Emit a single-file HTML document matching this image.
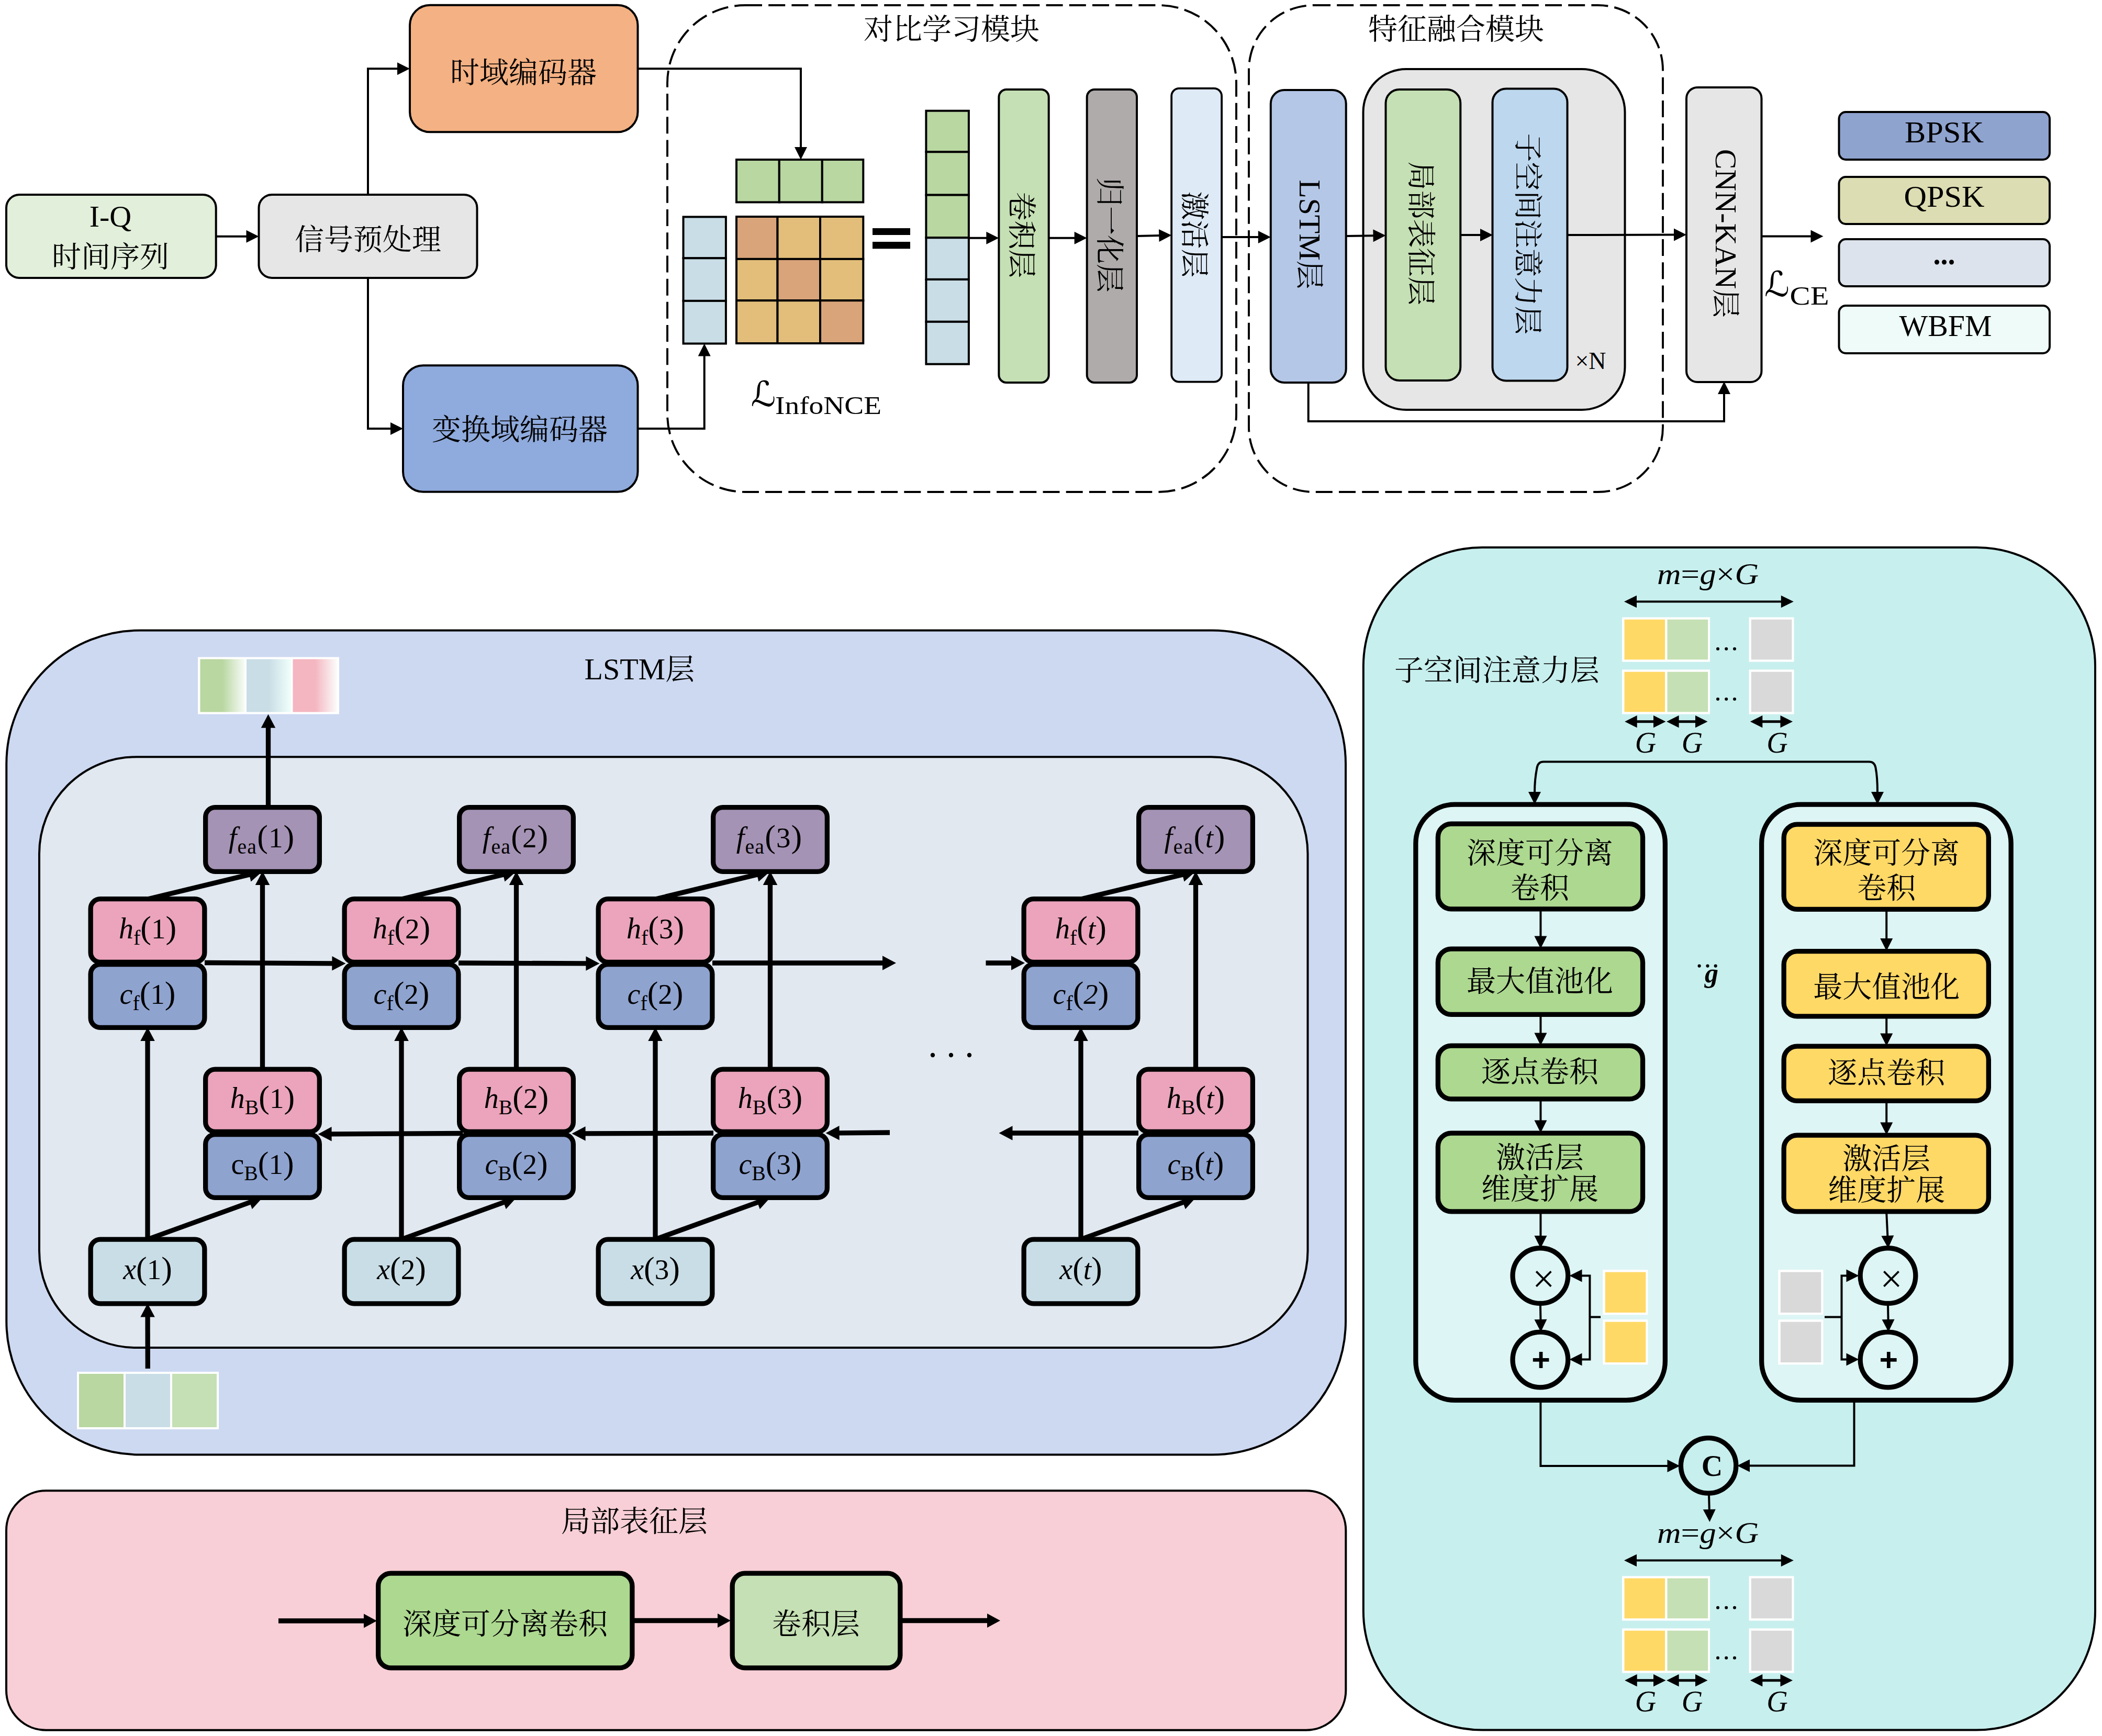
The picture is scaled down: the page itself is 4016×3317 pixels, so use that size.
<!DOCTYPE html>
<html lang="zh"><head><meta charset="utf-8"><title>Network architecture</title>
<style>html,body{margin:0;padding:0;background:#fff}svg{display:block}text{fill:#000}</style></head>
<body><svg width="4016" height="3317" viewBox="0 0 4016 3317">
<rect width="4016" height="3317" fill="#fff"/>
<rect x="1275" y="10" width="1087" height="930" rx="149" ry="149" fill="none" stroke="#000" stroke-width="3.9" stroke-dasharray="32 12.2"/>
<rect x="2386" y="10" width="791" height="930" rx="124" ry="124" fill="none" stroke="#000" stroke-width="3.9" stroke-dasharray="32 12.2"/>
<rect x="12.00" y="372.00" width="400.70" height="159.00" rx="25.00" ry="25.00" fill="#E2EFDA" stroke="#000" stroke-width="4" />
<rect x="494.50" y="372.00" width="417.00" height="159.00" rx="25.00" ry="25.00" fill="#E7E6E6" stroke="#000" stroke-width="4" />
<rect x="783.00" y="9.80" width="435.50" height="242.50" rx="38.50" ry="38.50" fill="#F4B183" stroke="#000" stroke-width="4" />
<rect x="770.00" y="698.20" width="448.50" height="241.60" rx="38.50" ry="38.50" fill="#8FAADC" stroke="#000" stroke-width="4" />
<text x="211.00" y="433.00" font-family='"Liberation Serif","Noto Serif CJK SC",serif' font-size="58" text-anchor="middle" >I-Q</text>
<text x="211.00" y="509.50" font-family='"Liberation Serif","Noto Serif CJK SC",serif' font-size="56" text-anchor="middle" >时间序列</text>
<text x="703.00" y="477.00" font-family='"Liberation Serif","Noto Serif CJK SC",serif' font-size="56" text-anchor="middle" >信号预处理</text>
<text x="1000.00" y="158.00" font-family='"Liberation Serif","Noto Serif CJK SC",serif' font-size="56" text-anchor="middle" >时域编码器</text>
<text x="993.00" y="840.00" font-family='"Liberation Serif","Noto Serif CJK SC",serif' font-size="56" text-anchor="middle" >变换域编码器</text>
<text x="1818.00" y="75.00" font-family='"Liberation Serif","Noto Serif CJK SC",serif' font-size="56" text-anchor="middle" >对比学习模块</text>
<text x="2782.00" y="75.00" font-family='"Liberation Serif","Noto Serif CJK SC",serif' font-size="56" text-anchor="middle" >特征融合模块</text>
<polygon points="494.50,451.70 470.50,463.70 470.50,439.70" fill="#000"/>
<polyline points="414.00,451.70 471.50,451.70" fill="none" stroke="#000" stroke-width="4" stroke-linejoin="miter" stroke-linecap="butt"/>
<polygon points="783.00,131.30 759.00,143.30 759.00,119.30" fill="#000"/>
<polyline points="703.00,371.00 703.00,131.30 760.00,131.30" fill="none" stroke="#000" stroke-width="4" stroke-linejoin="miter" stroke-linecap="butt"/>
<polygon points="770.00,819.00 746.00,831.00 746.00,807.00" fill="#000"/>
<polyline points="703.00,532.00 703.00,819.00 747.00,819.00" fill="none" stroke="#000" stroke-width="4" stroke-linejoin="miter" stroke-linecap="butt"/>
<polygon points="1530.00,305.00 1518.00,281.00 1542.00,281.00" fill="#000"/>
<polyline points="1219.00,131.30 1530.00,131.30 1530.00,282.00" fill="none" stroke="#000" stroke-width="4" stroke-linejoin="miter" stroke-linecap="butt"/>
<polygon points="1345.70,656.50 1357.70,680.50 1333.70,680.50" fill="#000"/>
<polyline points="1219.00,819.00 1345.70,819.00 1345.70,679.50" fill="none" stroke="#000" stroke-width="4" stroke-linejoin="miter" stroke-linecap="butt"/>
<rect x="1407.00" y="305.00" width="81.80" height="81.40" fill="#B9D7A1" stroke="#000" stroke-width="4"/>
<rect x="1488.80" y="305.00" width="82.00" height="81.40" fill="#B9D7A1" stroke="#000" stroke-width="4"/>
<rect x="1570.80" y="305.00" width="78.50" height="81.40" fill="#B9D7A1" stroke="#000" stroke-width="4"/>
<rect x="1305.50" y="414.40" width="81.40" height="78.90" fill="#C9DDE6" stroke="#000" stroke-width="4"/>
<rect x="1305.50" y="493.30" width="81.40" height="81.60" fill="#C9DDE6" stroke="#000" stroke-width="4"/>
<rect x="1305.50" y="574.90" width="81.40" height="81.60" fill="#C9DDE6" stroke="#000" stroke-width="4"/>
<rect x="1407.00" y="414.00" width="78.50" height="80.90" fill="#D9A47A" stroke="#000" stroke-width="4"/>
<rect x="1485.50" y="414.00" width="81.50" height="80.90" fill="#E2BE7A" stroke="#000" stroke-width="4"/>
<rect x="1567.00" y="414.00" width="82.30" height="80.90" fill="#E2BE7A" stroke="#000" stroke-width="4"/>
<rect x="1407.00" y="494.90" width="78.50" height="79.30" fill="#E2BE7A" stroke="#000" stroke-width="4"/>
<rect x="1485.50" y="494.90" width="81.50" height="79.30" fill="#D9A47A" stroke="#000" stroke-width="4"/>
<rect x="1567.00" y="494.90" width="82.30" height="79.30" fill="#E2BE7A" stroke="#000" stroke-width="4"/>
<rect x="1407.00" y="574.20" width="78.50" height="81.80" fill="#E2BE7A" stroke="#000" stroke-width="4"/>
<rect x="1485.50" y="574.20" width="81.50" height="81.80" fill="#E2BE7A" stroke="#000" stroke-width="4"/>
<rect x="1567.00" y="574.20" width="82.30" height="81.80" fill="#D9A47A" stroke="#000" stroke-width="4"/>
<rect x="1667" y="436" width="72" height="13" fill="#000"/><rect x="1667" y="462" width="72" height="13.3" fill="#000"/>
<rect x="1769.40" y="211.70" width="81.50" height="78.60" fill="#B9D7A1" stroke="#000" stroke-width="4"/>
<rect x="1769.40" y="290.30" width="81.50" height="82.30" fill="#B9D7A1" stroke="#000" stroke-width="4"/>
<rect x="1769.40" y="372.60" width="81.50" height="81.60" fill="#B9D7A1" stroke="#000" stroke-width="4"/>
<rect x="1769.40" y="454.20" width="81.50" height="79.70" fill="#C9DDE6" stroke="#000" stroke-width="4"/>
<rect x="1769.40" y="533.90" width="81.50" height="80.90" fill="#C9DDE6" stroke="#000" stroke-width="4"/>
<rect x="1769.40" y="614.80" width="81.50" height="80.90" fill="#C9DDE6" stroke="#000" stroke-width="4"/>
<text x="1434.5" y="776" font-family='"DejaVu Sans",sans-serif' font-size="66.5">ℒ</text>
<text x="1481" y="791" font-family='"Liberation Serif","Noto Serif CJK SC",serif' font-size="49" textLength="203" lengthAdjust="spacingAndGlyphs">InfoNCE</text>
<rect x="1908.40" y="171.00" width="95.30" height="560.00" rx="14.50" ry="14.50" fill="#C5E0B4" stroke="#000" stroke-width="4" />
<rect x="2076.70" y="171.00" width="95.30" height="560.00" rx="14.50" ry="14.50" fill="#AFABAB" stroke="#000" stroke-width="4" />
<rect x="2238.20" y="168.90" width="95.90" height="560.70" rx="14.60" ry="14.60" fill="#DEEAF6" stroke="#000" stroke-width="3.8" />
<rect x="2427.80" y="172.00" width="143.90" height="559.00" rx="26.00" ry="26.00" fill="#B4C7E7" stroke="#000" stroke-width="4" />
<rect x="2604.50" y="132.00" width="500.00" height="651.00" rx="82.00" ry="82.00" fill="#E7E6E6" stroke="#000" stroke-width="4" />
<rect x="2647.50" y="171.00" width="142.80" height="556.00" rx="26.00" ry="26.00" fill="#C5E0B4" stroke="#000" stroke-width="4" />
<rect x="2851.50" y="169.50" width="143.00" height="558.00" rx="26.00" ry="26.00" fill="#BDD7EE" stroke="#000" stroke-width="4" />
<rect x="3222.00" y="167.00" width="143.50" height="563.00" rx="21.00" ry="21.00" fill="#E7E6E6" stroke="#000" stroke-width="4" />
<text x="0" y="0" font-family='"Liberation Serif","Noto Serif CJK SC",serif' font-size="55" text-anchor="middle" transform="translate(1951.50 449.00) rotate(90) translate(0 19)" >卷积层</text>
<text x="0" y="0" font-family='"Liberation Serif","Noto Serif CJK SC",serif' font-size="55" text-anchor="middle" transform="translate(2120.00 449.00) rotate(90) translate(0 19)" >归一化层</text>
<text x="0" y="0" font-family='"Liberation Serif","Noto Serif CJK SC",serif' font-size="55" text-anchor="middle" transform="translate(2282.00 448.00) rotate(90) translate(0 19)" >激活层</text>
<text x="0" y="0" font-family='"Liberation Serif","Noto Serif CJK SC",serif' font-size="55" text-anchor="middle" transform="translate(2502.00 448.00) rotate(90) translate(0 19)" ><tspan font-size="58">LSTM</tspan>层</text>
<text x="0" y="0" font-family='"Liberation Serif","Noto Serif CJK SC",serif' font-size="55" text-anchor="middle" transform="translate(2715.00 446.00) rotate(90) translate(0 19)" >局部表征层</text>
<text x="0" y="0" font-family='"Liberation Serif","Noto Serif CJK SC",serif' font-size="55" text-anchor="middle" transform="translate(2919.00 447.00) rotate(90) translate(0 19)" >子空间注意力层</text>
<text x="0" y="0" font-family='"Liberation Serif","Noto Serif CJK SC",serif' font-size="55" text-anchor="middle" transform="translate(3297.00 446.00) rotate(90) translate(0 19)" ><tspan font-size="58">CNN-KAN</tspan>层</text>
<text x="3039.00" y="705.00" font-family='"Liberation Serif","Noto Serif CJK SC",serif' font-size="46" text-anchor="middle" >×N</text>
<polygon points="1908.40,454.80 1884.40,466.80 1884.40,442.80" fill="#000"/>
<polyline points="1851.00,454.80 1885.40,454.80" fill="none" stroke="#000" stroke-width="4" stroke-linejoin="miter" stroke-linecap="butt"/>
<polygon points="2076.70,454.80 2052.70,466.80 2052.70,442.80" fill="#000"/>
<polyline points="2004.00,454.80 2053.70,454.80" fill="none" stroke="#000" stroke-width="4" stroke-linejoin="miter" stroke-linecap="butt"/>
<polygon points="2238.30,449.50 2214.58,462.04 2214.03,438.05" fill="#000"/>
<polyline points="2172.00,451.00 2215.31,450.02" fill="none" stroke="#000" stroke-width="4" stroke-linejoin="miter" stroke-linecap="butt"/>
<polygon points="2427.80,453.00 2403.80,465.00 2403.80,441.00" fill="#000"/>
<polyline points="2335.00,453.00 2404.80,453.00" fill="none" stroke="#000" stroke-width="4" stroke-linejoin="miter" stroke-linecap="butt"/>
<polygon points="2647.50,450.00 2623.66,462.32 2623.34,438.32" fill="#000"/>
<polyline points="2572.00,451.00 2624.50,450.30" fill="none" stroke="#000" stroke-width="4" stroke-linejoin="miter" stroke-linecap="butt"/>
<polygon points="2852.00,449.00 2828.00,461.00 2828.00,437.00" fill="#000"/>
<polyline points="2792.00,449.00 2829.00,449.00" fill="none" stroke="#000" stroke-width="4" stroke-linejoin="miter" stroke-linecap="butt"/>
<polygon points="3222.00,448.50 3198.03,460.55 3197.97,436.55" fill="#000"/>
<polyline points="2996.00,449.00 3199.00,448.55" fill="none" stroke="#000" stroke-width="4" stroke-linejoin="miter" stroke-linecap="butt"/>
<polygon points="3483.50,451.50 3459.50,463.50 3459.50,439.50" fill="#000"/>
<polyline points="3366.00,451.50 3460.50,451.50" fill="none" stroke="#000" stroke-width="4" stroke-linejoin="miter" stroke-linecap="butt"/>
<polygon points="3294.00,729.00 3306.00,753.00 3282.00,753.00" fill="#000"/>
<polyline points="2499.70,731.00 2499.70,805.00 3294.00,805.00 3294.00,752.00" fill="none" stroke="#000" stroke-width="4" stroke-linejoin="miter" stroke-linecap="butt"/>
<text x="3371" y="566" font-family='"DejaVu Sans",sans-serif' font-size="66.5">ℒ</text>
<text x="3419.5" y="581.5" font-family='"Liberation Serif","Noto Serif CJK SC",serif' font-size="50" textLength="75" lengthAdjust="spacingAndGlyphs">CE</text>
<rect x="3513.50" y="214.00" width="402.50" height="91.00" rx="13.00" ry="13.00" fill="#8FA3CF" stroke="#000" stroke-width="4" />
<rect x="3513.50" y="338.00" width="402.50" height="90.00" rx="13.00" ry="13.00" fill="#DDDDB3" stroke="#000" stroke-width="4" />
<rect x="3513.50" y="457.00" width="402.50" height="90.00" rx="13.00" ry="13.00" fill="#DDE3EC" stroke="#000" stroke-width="4" />
<rect x="3513.50" y="584.00" width="402.50" height="91.00" rx="13.00" ry="13.00" fill="#EFFBF8" stroke="#000" stroke-width="4" />
<text x="3714.50" y="272.00" font-family='"Liberation Serif","Noto Serif CJK SC",serif' font-size="58" text-anchor="middle" textLength="151" lengthAdjust="spacingAndGlyphs">BPSK</text>
<text x="3714.50" y="395.00" font-family='"Liberation Serif","Noto Serif CJK SC",serif' font-size="58" text-anchor="middle" textLength="154" lengthAdjust="spacingAndGlyphs">QPSK</text>
<text x="3714.50" y="505.00" font-family='"Liberation Serif","Noto Serif CJK SC",serif' font-size="56" text-anchor="middle" font-weight="bold">...</text>
<text x="3717.00" y="642.00" font-family='"Liberation Serif","Noto Serif CJK SC",serif' font-size="58" text-anchor="middle" textLength="177" lengthAdjust="spacingAndGlyphs">WBFM</text>
<rect x="12.30" y="1204.50" width="2558.70" height="1575.00" rx="255.00" ry="255.00" fill="#CDD9F1" stroke="#000" stroke-width="4" />
<rect x="75.00" y="1446.30" width="2423.50" height="1128.70" rx="185.00" ry="185.00" fill="#E1E8F0" stroke="#000" stroke-width="4" />
<text x="1116.50" y="1298.20" font-family='"Liberation Serif","Noto Serif CJK SC",serif' font-size="56" text-anchor="start" ><tspan font-size="58">LSTM</tspan>层</text>
<defs>
<linearGradient id="g0" x1="0" x2="1" y1="0" y2="0"><stop offset="0" stop-color="#B9D7A1"/><stop offset="0.5" stop-color="#B9D7A1"/><stop offset="1" stop-color="#F7FBF7"/></linearGradient>
<linearGradient id="g1" x1="0" x2="1" y1="0" y2="0"><stop offset="0" stop-color="#C9DDE6"/><stop offset="0.5" stop-color="#C9DDE6"/><stop offset="1" stop-color="#F0FFFA"/></linearGradient>
<linearGradient id="g2" x1="0" x2="1" y1="0" y2="0"><stop offset="0" stop-color="#F4B6C0"/><stop offset="0.5" stop-color="#F4B6C0"/><stop offset="1" stop-color="#FBFDFC"/></linearGradient>
</defs>
<rect x="378" y="1255.5" width="270" height="109" fill="#fff"/>
<rect x="382.5" y="1259.5" width="85" height="101" fill="url(#g0)"/>
<rect x="471.0" y="1259.5" width="85" height="101" fill="url(#g1)"/>
<rect x="559.5" y="1259.5" width="85" height="101" fill="url(#g2)"/>
<rect x="147" y="2621" width="271" height="110" fill="#fff"/>
<rect x="151" y="2625" width="85" height="102" fill="#B9D7A1"/>
<rect x="240" y="2625" width="85" height="102" fill="#C9DDE6"/>
<rect x="329" y="2625" width="85" height="102" fill="#C5E0B4"/>
<polygon points="282.00,1963.00 295.75,1989.00 268.25,1989.00" fill="#000"/>
<polyline points="282.00,2368.00 282.00,1988.00" fill="none" stroke="#000" stroke-width="9.3" stroke-linejoin="miter" stroke-linecap="butt"/>
<polygon points="501.50,2288.50 481.74,2310.28 472.37,2284.43" fill="#000"/>
<polyline points="282.00,2368.00 477.99,2297.01" fill="none" stroke="#000" stroke-width="9.3" stroke-linejoin="miter" stroke-linecap="butt"/>
<polygon points="501.50,1665.00 515.25,1691.00 487.75,1691.00" fill="#000"/>
<polyline points="501.50,2043.00 501.50,1690.00" fill="none" stroke="#000" stroke-width="9.3" stroke-linejoin="miter" stroke-linecap="butt"/>
<polygon points="501.50,1665.00 479.45,1684.47 473.00,1657.74" fill="#000"/>
<polyline points="282.00,1718.00 477.20,1670.87" fill="none" stroke="#000" stroke-width="9.3" stroke-linejoin="miter" stroke-linecap="butt"/>
<polygon points="767.00,1963.00 780.75,1989.00 753.25,1989.00" fill="#000"/>
<polyline points="767.00,2368.00 767.00,1988.00" fill="none" stroke="#000" stroke-width="9.3" stroke-linejoin="miter" stroke-linecap="butt"/>
<polygon points="986.50,2288.50 966.74,2310.28 957.37,2284.43" fill="#000"/>
<polyline points="767.00,2368.00 962.99,2297.01" fill="none" stroke="#000" stroke-width="9.3" stroke-linejoin="miter" stroke-linecap="butt"/>
<polygon points="986.50,1665.00 1000.25,1691.00 972.75,1691.00" fill="#000"/>
<polyline points="986.50,2043.00 986.50,1690.00" fill="none" stroke="#000" stroke-width="9.3" stroke-linejoin="miter" stroke-linecap="butt"/>
<polygon points="986.50,1665.00 964.45,1684.47 958.00,1657.74" fill="#000"/>
<polyline points="767.00,1718.00 962.20,1670.87" fill="none" stroke="#000" stroke-width="9.3" stroke-linejoin="miter" stroke-linecap="butt"/>
<polygon points="1252.00,1963.00 1265.75,1989.00 1238.25,1989.00" fill="#000"/>
<polyline points="1252.00,2368.00 1252.00,1988.00" fill="none" stroke="#000" stroke-width="9.3" stroke-linejoin="miter" stroke-linecap="butt"/>
<polygon points="1471.50,2288.50 1451.74,2310.28 1442.37,2284.43" fill="#000"/>
<polyline points="1252.00,2368.00 1447.99,2297.01" fill="none" stroke="#000" stroke-width="9.3" stroke-linejoin="miter" stroke-linecap="butt"/>
<polygon points="1471.50,1665.00 1485.25,1691.00 1457.75,1691.00" fill="#000"/>
<polyline points="1471.50,2043.00 1471.50,1690.00" fill="none" stroke="#000" stroke-width="9.3" stroke-linejoin="miter" stroke-linecap="butt"/>
<polygon points="1471.50,1665.00 1449.45,1684.47 1443.00,1657.74" fill="#000"/>
<polyline points="1252.00,1718.00 1447.20,1670.87" fill="none" stroke="#000" stroke-width="9.3" stroke-linejoin="miter" stroke-linecap="butt"/>
<polygon points="2065.00,1963.00 2078.75,1989.00 2051.25,1989.00" fill="#000"/>
<polyline points="2065.00,2368.00 2065.00,1988.00" fill="none" stroke="#000" stroke-width="9.3" stroke-linejoin="miter" stroke-linecap="butt"/>
<polygon points="2284.50,2288.50 2264.74,2310.28 2255.37,2284.43" fill="#000"/>
<polyline points="2065.00,2368.00 2260.99,2297.01" fill="none" stroke="#000" stroke-width="9.3" stroke-linejoin="miter" stroke-linecap="butt"/>
<polygon points="2284.50,1665.00 2298.25,1691.00 2270.75,1691.00" fill="#000"/>
<polyline points="2284.50,2043.00 2284.50,1690.00" fill="none" stroke="#000" stroke-width="9.3" stroke-linejoin="miter" stroke-linecap="butt"/>
<polygon points="2284.50,1665.00 2262.45,1684.47 2256.00,1657.74" fill="#000"/>
<polyline points="2065.00,1718.00 2260.20,1670.87" fill="none" stroke="#000" stroke-width="9.3" stroke-linejoin="miter" stroke-linecap="butt"/>
<polygon points="512.50,1364.80 526.25,1390.80 498.75,1390.80" fill="#000"/>
<polyline points="512.50,1543.00 512.50,1389.80" fill="none" stroke="#000" stroke-width="9.3" stroke-linejoin="miter" stroke-linecap="butt"/>
<polygon points="282.00,2490.50 295.81,2516.47 268.31,2516.53" fill="#000"/>
<polyline points="282.30,2615.00 282.06,2515.50" fill="none" stroke="#000" stroke-width="9.3" stroke-linejoin="miter" stroke-linecap="butt"/>
<polygon points="660.40,1841.00 634.32,1854.61 634.48,1827.11" fill="#000"/>
<polyline points="391.00,1839.50 635.40,1840.86" fill="none" stroke="#000" stroke-width="9.3" stroke-linejoin="miter" stroke-linecap="butt"/>
<polygon points="1145.40,1841.00 1119.35,1854.65 1119.45,1827.15" fill="#000"/>
<polyline points="876.00,1840.00 1120.40,1840.91" fill="none" stroke="#000" stroke-width="9.3" stroke-linejoin="miter" stroke-linecap="butt"/>
<polygon points="1712.00,1840.00 1686.00,1853.75 1686.00,1826.25" fill="#000"/>
<polyline points="1361.00,1840.00 1687.00,1840.00" fill="none" stroke="#000" stroke-width="9.3" stroke-linejoin="miter" stroke-linecap="butt"/>
<polygon points="1958.00,1840.00 1932.00,1853.75 1932.00,1826.25" fill="#000"/>
<polyline points="1883.50,1840.00 1933.00,1840.00" fill="none" stroke="#000" stroke-width="9.3" stroke-linejoin="miter" stroke-linecap="butt"/>
<polygon points="607.60,2167.00 633.53,2153.11 633.67,2180.61" fill="#000"/>
<polyline points="884.50,2165.50 632.60,2166.86" fill="none" stroke="#000" stroke-width="9.3" stroke-linejoin="miter" stroke-linecap="butt"/>
<polygon points="1092.60,2166.00 1118.55,2152.15 1118.65,2179.65" fill="#000"/>
<polyline points="1363.00,2165.00 1117.60,2165.91" fill="none" stroke="#000" stroke-width="9.3" stroke-linejoin="miter" stroke-linecap="butt"/>
<polygon points="1577.60,2165.00 1603.49,2151.04 1603.71,2178.54" fill="#000"/>
<polyline points="1700.00,2164.00 1602.60,2164.80" fill="none" stroke="#000" stroke-width="9.3" stroke-linejoin="miter" stroke-linecap="butt"/>
<polygon points="1908.50,2165.00 1934.50,2151.25 1934.50,2178.75" fill="#000"/>
<polyline points="2175.00,2165.00 1933.50,2165.00" fill="none" stroke="#000" stroke-width="9.3" stroke-linejoin="miter" stroke-linecap="butt"/>
<circle cx="1782" cy="2016" r="4.2" fill="#000"/>
<circle cx="1817" cy="2016" r="4.2" fill="#000"/>
<circle cx="1852" cy="2016" r="4.2" fill="#000"/>
<rect x="392.65" y="1542.65" width="217.70" height="122.70" rx="18.35" ry="18.35" fill="#A593B5" stroke="#000" stroke-width="9.3" />
<rect x="173.15" y="1717.65" width="217.70" height="120.70" rx="18.35" ry="18.35" fill="#EBA4BC" stroke="#000" stroke-width="9.3" />
<rect x="173.15" y="1842.65" width="217.70" height="120.70" rx="18.35" ry="18.35" fill="#8FA3CF" stroke="#000" stroke-width="9.3" />
<rect x="392.65" y="2043.15" width="217.70" height="119.20" rx="18.35" ry="18.35" fill="#EBA4BC" stroke="#000" stroke-width="9.3" />
<rect x="392.65" y="2167.65" width="217.70" height="120.70" rx="18.35" ry="18.35" fill="#8FA3CF" stroke="#000" stroke-width="9.3" />
<rect x="173.15" y="2368.15" width="217.70" height="122.70" rx="18.35" ry="18.35" fill="#C9DDE6" stroke="#000" stroke-width="9.3" />
<text x="499.50" y="1618.50" font-family='"Liberation Serif","Noto Serif CJK SC",serif' font-size="56" text-anchor="middle" textLength="125.5"><tspan font-style="italic">f</tspan><tspan dy="12" font-size="39.8">ea</tspan><tspan dy="-12" font-size="62">(</tspan><tspan font-size="55">1</tspan><tspan font-size="62">)</tspan></text>
<text x="282.00" y="1792.50" font-family='"Liberation Serif","Noto Serif CJK SC",serif' font-size="56" text-anchor="middle" ><tspan font-style="italic">h</tspan><tspan dy="12" font-size="39.8">f</tspan><tspan dy="-12" font-size="62">(</tspan><tspan font-size="55">1</tspan><tspan font-size="62">)</tspan></text>
<text x="282.00" y="1917.50" font-family='"Liberation Serif","Noto Serif CJK SC",serif' font-size="56" text-anchor="middle" ><tspan font-style="italic">c</tspan><tspan dy="12" font-size="39.8">f</tspan><tspan dy="-12" font-size="62">(</tspan><tspan font-size="55">1</tspan><tspan font-size="62">)</tspan></text>
<text x="501.50" y="2117.25" font-family='"Liberation Serif","Noto Serif CJK SC",serif' font-size="56" text-anchor="middle" ><tspan font-style="italic">h</tspan><tspan dy="12" font-size="39.8">B</tspan><tspan dy="-12" font-size="62">(</tspan><tspan font-size="55">1</tspan><tspan font-size="62">)</tspan></text>
<text x="501.50" y="2242.50" font-family='"Liberation Serif","Noto Serif CJK SC",serif' font-size="56" text-anchor="middle" ><tspan >c</tspan><tspan dy="12" font-size="39.8">B</tspan><tspan dy="-12" font-size="62">(</tspan><tspan font-size="55">1</tspan><tspan font-size="62">)</tspan></text>
<text x="282.00" y="2444.00" font-family='"Liberation Serif","Noto Serif CJK SC",serif' font-size="56" text-anchor="middle" ><tspan font-style="italic">x</tspan><tspan font-size="62">(</tspan><tspan font-size="55">1</tspan><tspan font-size="62">)</tspan></text>
<rect x="877.65" y="1542.65" width="217.70" height="122.70" rx="18.35" ry="18.35" fill="#A593B5" stroke="#000" stroke-width="9.3" />
<rect x="658.15" y="1717.65" width="217.70" height="120.70" rx="18.35" ry="18.35" fill="#EBA4BC" stroke="#000" stroke-width="9.3" />
<rect x="658.15" y="1842.65" width="217.70" height="120.70" rx="18.35" ry="18.35" fill="#8FA3CF" stroke="#000" stroke-width="9.3" />
<rect x="877.65" y="2043.15" width="217.70" height="119.20" rx="18.35" ry="18.35" fill="#EBA4BC" stroke="#000" stroke-width="9.3" />
<rect x="877.65" y="2167.65" width="217.70" height="120.70" rx="18.35" ry="18.35" fill="#8FA3CF" stroke="#000" stroke-width="9.3" />
<rect x="658.15" y="2368.15" width="217.70" height="122.70" rx="18.35" ry="18.35" fill="#C9DDE6" stroke="#000" stroke-width="9.3" />
<text x="984.50" y="1618.50" font-family='"Liberation Serif","Noto Serif CJK SC",serif' font-size="56" text-anchor="middle" textLength="125.5"><tspan font-style="italic">f</tspan><tspan dy="12" font-size="39.8">ea</tspan><tspan dy="-12" font-size="62">(</tspan><tspan font-size="55">2</tspan><tspan font-size="62">)</tspan></text>
<text x="767.00" y="1792.50" font-family='"Liberation Serif","Noto Serif CJK SC",serif' font-size="56" text-anchor="middle" ><tspan font-style="italic">h</tspan><tspan dy="12" font-size="39.8">f</tspan><tspan dy="-12" font-size="62">(</tspan><tspan font-size="55">2</tspan><tspan font-size="62">)</tspan></text>
<text x="767.00" y="1917.50" font-family='"Liberation Serif","Noto Serif CJK SC",serif' font-size="56" text-anchor="middle" ><tspan font-style="italic">c</tspan><tspan dy="12" font-size="39.8">f</tspan><tspan dy="-12" font-size="62">(</tspan><tspan font-size="55">2</tspan><tspan font-size="62">)</tspan></text>
<text x="986.50" y="2117.25" font-family='"Liberation Serif","Noto Serif CJK SC",serif' font-size="56" text-anchor="middle" ><tspan font-style="italic">h</tspan><tspan dy="12" font-size="39.8">B</tspan><tspan dy="-12" font-size="62">(</tspan><tspan font-size="55">2</tspan><tspan font-size="62">)</tspan></text>
<text x="986.50" y="2242.50" font-family='"Liberation Serif","Noto Serif CJK SC",serif' font-size="56" text-anchor="middle" ><tspan font-style="italic">c</tspan><tspan dy="12" font-size="39.8">B</tspan><tspan dy="-12" font-size="62">(</tspan><tspan font-size="55">2</tspan><tspan font-size="62">)</tspan></text>
<text x="767.00" y="2444.00" font-family='"Liberation Serif","Noto Serif CJK SC",serif' font-size="56" text-anchor="middle" ><tspan font-style="italic">x</tspan><tspan font-size="62">(</tspan><tspan font-size="55">2</tspan><tspan font-size="62">)</tspan></text>
<rect x="1362.65" y="1542.65" width="217.70" height="122.70" rx="18.35" ry="18.35" fill="#A593B5" stroke="#000" stroke-width="9.3" />
<rect x="1143.15" y="1717.65" width="217.70" height="120.70" rx="18.35" ry="18.35" fill="#EBA4BC" stroke="#000" stroke-width="9.3" />
<rect x="1143.15" y="1842.65" width="217.70" height="120.70" rx="18.35" ry="18.35" fill="#8FA3CF" stroke="#000" stroke-width="9.3" />
<rect x="1362.65" y="2043.15" width="217.70" height="119.20" rx="18.35" ry="18.35" fill="#EBA4BC" stroke="#000" stroke-width="9.3" />
<rect x="1362.65" y="2167.65" width="217.70" height="120.70" rx="18.35" ry="18.35" fill="#8FA3CF" stroke="#000" stroke-width="9.3" />
<rect x="1143.15" y="2368.15" width="217.70" height="122.70" rx="18.35" ry="18.35" fill="#C9DDE6" stroke="#000" stroke-width="9.3" />
<text x="1469.50" y="1618.50" font-family='"Liberation Serif","Noto Serif CJK SC",serif' font-size="56" text-anchor="middle" textLength="125.5"><tspan font-style="italic">f</tspan><tspan dy="12" font-size="39.8">ea</tspan><tspan dy="-12" font-size="62">(</tspan><tspan font-size="55">3</tspan><tspan font-size="62">)</tspan></text>
<text x="1252.00" y="1792.50" font-family='"Liberation Serif","Noto Serif CJK SC",serif' font-size="56" text-anchor="middle" ><tspan font-style="italic">h</tspan><tspan dy="12" font-size="39.8">f</tspan><tspan dy="-12" font-size="62">(</tspan><tspan font-size="55">3</tspan><tspan font-size="62">)</tspan></text>
<text x="1252.00" y="1917.50" font-family='"Liberation Serif","Noto Serif CJK SC",serif' font-size="56" text-anchor="middle" ><tspan font-style="italic">c</tspan><tspan dy="12" font-size="39.8">f</tspan><tspan dy="-12" font-size="62">(</tspan><tspan font-size="55">2</tspan><tspan font-size="62">)</tspan></text>
<text x="1471.50" y="2117.25" font-family='"Liberation Serif","Noto Serif CJK SC",serif' font-size="56" text-anchor="middle" ><tspan font-style="italic">h</tspan><tspan dy="12" font-size="39.8">B</tspan><tspan dy="-12" font-size="62">(</tspan><tspan font-size="55">3</tspan><tspan font-size="62">)</tspan></text>
<text x="1471.50" y="2242.50" font-family='"Liberation Serif","Noto Serif CJK SC",serif' font-size="56" text-anchor="middle" ><tspan font-style="italic">c</tspan><tspan dy="12" font-size="39.8">B</tspan><tspan dy="-12" font-size="62">(</tspan><tspan font-size="55">3</tspan><tspan font-size="62">)</tspan></text>
<text x="1252.00" y="2444.00" font-family='"Liberation Serif","Noto Serif CJK SC",serif' font-size="56" text-anchor="middle" ><tspan font-style="italic">x</tspan><tspan font-size="62">(</tspan><tspan font-size="55">3</tspan><tspan font-size="62">)</tspan></text>
<rect x="2175.65" y="1542.65" width="217.70" height="122.70" rx="18.35" ry="18.35" fill="#A593B5" stroke="#000" stroke-width="9.3" />
<rect x="1956.15" y="1717.65" width="217.70" height="120.70" rx="18.35" ry="18.35" fill="#EBA4BC" stroke="#000" stroke-width="9.3" />
<rect x="1956.15" y="1842.65" width="217.70" height="120.70" rx="18.35" ry="18.35" fill="#8FA3CF" stroke="#000" stroke-width="9.3" />
<rect x="2175.65" y="2043.15" width="217.70" height="119.20" rx="18.35" ry="18.35" fill="#EBA4BC" stroke="#000" stroke-width="9.3" />
<rect x="2175.65" y="2167.65" width="217.70" height="120.70" rx="18.35" ry="18.35" fill="#8FA3CF" stroke="#000" stroke-width="9.3" />
<rect x="1956.15" y="2368.15" width="217.70" height="122.70" rx="18.35" ry="18.35" fill="#C9DDE6" stroke="#000" stroke-width="9.3" />
<text x="2282.50" y="1618.50" font-family='"Liberation Serif","Noto Serif CJK SC",serif' font-size="56" text-anchor="middle" textLength="116"><tspan font-style="italic">f</tspan><tspan dy="12" font-size="39.8">ea</tspan><tspan dy="-12" font-size="62">(</tspan><tspan font-size="55"><tspan font-style="italic">t</tspan></tspan><tspan font-size="62">)</tspan></text>
<text x="2065.00" y="1792.50" font-family='"Liberation Serif","Noto Serif CJK SC",serif' font-size="56" text-anchor="middle" ><tspan font-style="italic">h</tspan><tspan dy="12" font-size="39.8">f</tspan><tspan dy="-12" font-size="62">(</tspan><tspan font-size="55"><tspan font-style="italic">t</tspan></tspan><tspan font-size="62">)</tspan></text>
<text x="2065.00" y="1917.50" font-family='"Liberation Serif","Noto Serif CJK SC",serif' font-size="56" text-anchor="middle" ><tspan font-style="italic">c</tspan><tspan dy="12" font-size="39.8">f</tspan><tspan dy="-12" font-size="62">(</tspan><tspan font-size="55"><tspan font-style="italic">2</tspan></tspan><tspan font-size="62">)</tspan></text>
<text x="2284.50" y="2117.25" font-family='"Liberation Serif","Noto Serif CJK SC",serif' font-size="56" text-anchor="middle" ><tspan font-style="italic">h</tspan><tspan dy="12" font-size="39.8">B</tspan><tspan dy="-12" font-size="62">(</tspan><tspan font-size="55"><tspan font-style="italic">t</tspan></tspan><tspan font-size="62">)</tspan></text>
<text x="2284.50" y="2242.50" font-family='"Liberation Serif","Noto Serif CJK SC",serif' font-size="56" text-anchor="middle" ><tspan font-style="italic">c</tspan><tspan dy="12" font-size="39.8">B</tspan><tspan dy="-12" font-size="62">(</tspan><tspan font-size="55"><tspan font-style="italic">t</tspan></tspan><tspan font-size="62">)</tspan></text>
<text x="2065.00" y="2444.00" font-family='"Liberation Serif","Noto Serif CJK SC",serif' font-size="56" text-anchor="middle" ><tspan font-style="italic">x</tspan><tspan font-size="62">(</tspan><tspan font-size="55"><tspan font-style="italic">t</tspan></tspan><tspan font-size="62">)</tspan></text>
<rect x="12.00" y="2848.30" width="2559.30" height="457.50" rx="76.00" ry="76.00" fill="#F8CFD6" stroke="#000" stroke-width="4" />
<text x="1212.00" y="2926.00" font-family='"Liberation Serif","Noto Serif CJK SC",serif' font-size="56" text-anchor="middle" >局部表征层</text>
<rect x="722.65" y="3006.15" width="485.20" height="180.70" rx="24.35" ry="24.35" fill="#ADD890" stroke="#000" stroke-width="9.3" />
<rect x="1399.15" y="3006.15" width="320.70" height="180.70" rx="24.35" ry="24.35" fill="#C5E0B4" stroke="#000" stroke-width="9.3" />
<text x="965.00" y="3122.00" font-family='"Liberation Serif","Noto Serif CJK SC",serif' font-size="56" text-anchor="middle" >深度可分离卷积</text>
<text x="1559.00" y="3122.00" font-family='"Liberation Serif","Noto Serif CJK SC",serif' font-size="56" text-anchor="middle" >卷积层</text>
<polygon points="720.00,3097.00 695.00,3110.50 695.00,3083.50" fill="#000"/>
<polyline points="532.00,3097.00 696.00,3097.00" fill="none" stroke="#000" stroke-width="9.3" stroke-linejoin="miter" stroke-linecap="butt"/>
<polygon points="1396.00,3096.50 1371.00,3110.00 1371.00,3083.00" fill="#000"/>
<polyline points="1210.00,3096.50 1372.00,3096.50" fill="none" stroke="#000" stroke-width="9.3" stroke-linejoin="miter" stroke-linecap="butt"/>
<polygon points="1911.00,3096.50 1886.00,3110.00 1886.00,3083.00" fill="#000"/>
<polyline points="1722.00,3096.50 1887.00,3096.50" fill="none" stroke="#000" stroke-width="9.3" stroke-linejoin="miter" stroke-linecap="butt"/>
<rect x="2604.80" y="1046.00" width="1398.20" height="2259.50" rx="227.00" ry="227.00" fill="#C7EFEE" stroke="#000" stroke-width="4" />
<text x="2664.00" y="1300.00" font-family='"Liberation Serif","Noto Serif CJK SC",serif' font-size="56" text-anchor="start" >子空间注意力层</text>
<rect x="3099.1" y="1179.4" width="168" height="85.2" fill="#fff"/>
<rect x="3103.5" y="1183.7" width="77.6" height="76.6" fill="#FFD966"/>
<rect x="3185.5" y="1183.7" width="77.6" height="76.6" fill="#C5E0B4"/>
<rect x="3341.5" y="1179.4" width="86" height="85.2" fill="#fff"/>
<rect x="3345.8" y="1183.7" width="77.6" height="76.6" fill="#D9D9D9"/>
<rect x="3099.1" y="1279.4" width="168" height="85.2" fill="#fff"/>
<rect x="3103.5" y="1283.7" width="77.6" height="76.6" fill="#FFD966"/>
<rect x="3185.5" y="1283.7" width="77.6" height="76.6" fill="#C5E0B4"/>
<rect x="3341.5" y="1279.4" width="86" height="85.2" fill="#fff"/>
<rect x="3345.8" y="1283.7" width="77.6" height="76.6" fill="#D9D9D9"/>
<circle cx="3282" cy="1239.7" r="3" fill="#000"/>
<circle cx="3298.2" cy="1239.7" r="3" fill="#000"/>
<circle cx="3314" cy="1239.7" r="3" fill="#000"/>
<circle cx="3282" cy="1335.8" r="3" fill="#000"/>
<circle cx="3298.2" cy="1335.8" r="3" fill="#000"/>
<circle cx="3314" cy="1335.8" r="3" fill="#000"/>
<text x="3263.00" y="1115.50" font-family='"Liberation Serif","Noto Serif CJK SC",serif' font-size="56" text-anchor="middle" textLength="194" lengthAdjust="spacingAndGlyphs"><tspan font-style="italic">m</tspan>=<tspan font-style="italic">g</tspan>×<tspan font-style="italic">G</tspan></text>
<polygon points="3426.80,1149.40 3402.80,1161.15 3402.80,1137.65" fill="#000"/>
<polygon points="3103.00,1149.40 3127.00,1137.65 3127.00,1161.15" fill="#000"/>
<polyline points="3126.00,1149.40 3403.80,1149.40" fill="none" stroke="#000" stroke-width="4" stroke-linejoin="miter" stroke-linecap="butt"/>
<polygon points="3182.50,1378.70 3159.00,1390.45 3159.00,1366.95" fill="#000"/>
<polygon points="3104.20,1378.70 3127.70,1366.95 3127.70,1390.45" fill="#000"/>
<polyline points="3126.70,1378.70 3160.00,1378.70" fill="none" stroke="#000" stroke-width="5" stroke-linejoin="miter" stroke-linecap="butt"/>
<polygon points="3262.50,1378.70 3239.00,1390.45 3239.00,1366.95" fill="#000"/>
<polygon points="3184.10,1378.70 3207.60,1366.95 3207.60,1390.45" fill="#000"/>
<polyline points="3206.60,1378.70 3240.00,1378.70" fill="none" stroke="#000" stroke-width="5" stroke-linejoin="miter" stroke-linecap="butt"/>
<polygon points="3425.00,1378.70 3401.50,1390.45 3401.50,1366.95" fill="#000"/>
<polygon points="3343.80,1378.70 3367.30,1366.95 3367.30,1390.45" fill="#000"/>
<polyline points="3366.30,1378.70 3402.50,1378.70" fill="none" stroke="#000" stroke-width="5" stroke-linejoin="miter" stroke-linecap="butt"/>
<text x="3144.00" y="1438.00" font-family='"Liberation Serif","Noto Serif CJK SC",serif' font-size="56" text-anchor="middle" ><tspan font-style="italic">G</tspan></text>
<text x="3233.00" y="1438.00" font-family='"Liberation Serif","Noto Serif CJK SC",serif' font-size="56" text-anchor="middle" ><tspan font-style="italic">G</tspan></text>
<text x="3395.50" y="1438.00" font-family='"Liberation Serif","Noto Serif CJK SC",serif' font-size="56" text-anchor="middle" ><tspan font-style="italic">G</tspan></text>
<rect x="3099.1" y="3011.4" width="168" height="85.2" fill="#fff"/>
<rect x="3103.5" y="3015.7000000000003" width="77.6" height="76.6" fill="#FFD966"/>
<rect x="3185.5" y="3015.7000000000003" width="77.6" height="76.6" fill="#C5E0B4"/>
<rect x="3341.5" y="3011.4" width="86" height="85.2" fill="#fff"/>
<rect x="3345.8" y="3015.7000000000003" width="77.6" height="76.6" fill="#D9D9D9"/>
<rect x="3099.1" y="3111.4" width="168" height="85.2" fill="#fff"/>
<rect x="3103.5" y="3115.7000000000003" width="77.6" height="76.6" fill="#FFD966"/>
<rect x="3185.5" y="3115.7000000000003" width="77.6" height="76.6" fill="#C5E0B4"/>
<rect x="3341.5" y="3111.4" width="86" height="85.2" fill="#fff"/>
<rect x="3345.8" y="3115.7000000000003" width="77.6" height="76.6" fill="#D9D9D9"/>
<circle cx="3282" cy="3071.7" r="3" fill="#000"/>
<circle cx="3298.2" cy="3071.7" r="3" fill="#000"/>
<circle cx="3314" cy="3071.7" r="3" fill="#000"/>
<circle cx="3282" cy="3167.8" r="3" fill="#000"/>
<circle cx="3298.2" cy="3167.8" r="3" fill="#000"/>
<circle cx="3314" cy="3167.8" r="3" fill="#000"/>
<text x="3263.00" y="2947.50" font-family='"Liberation Serif","Noto Serif CJK SC",serif' font-size="56" text-anchor="middle" textLength="194" lengthAdjust="spacingAndGlyphs"><tspan font-style="italic">m</tspan>=<tspan font-style="italic">g</tspan>×<tspan font-style="italic">G</tspan></text>
<polygon points="3426.80,2981.40 3402.80,2993.15 3402.80,2969.65" fill="#000"/>
<polygon points="3103.00,2981.40 3127.00,2969.65 3127.00,2993.15" fill="#000"/>
<polyline points="3126.00,2981.40 3403.80,2981.40" fill="none" stroke="#000" stroke-width="4" stroke-linejoin="miter" stroke-linecap="butt"/>
<polygon points="3182.50,3210.70 3159.00,3222.45 3159.00,3198.95" fill="#000"/>
<polygon points="3104.20,3210.70 3127.70,3198.95 3127.70,3222.45" fill="#000"/>
<polyline points="3126.70,3210.70 3160.00,3210.70" fill="none" stroke="#000" stroke-width="5" stroke-linejoin="miter" stroke-linecap="butt"/>
<polygon points="3262.50,3210.70 3239.00,3222.45 3239.00,3198.95" fill="#000"/>
<polygon points="3184.10,3210.70 3207.60,3198.95 3207.60,3222.45" fill="#000"/>
<polyline points="3206.60,3210.70 3240.00,3210.70" fill="none" stroke="#000" stroke-width="5" stroke-linejoin="miter" stroke-linecap="butt"/>
<polygon points="3425.00,3210.70 3401.50,3222.45 3401.50,3198.95" fill="#000"/>
<polygon points="3343.80,3210.70 3367.30,3198.95 3367.30,3222.45" fill="#000"/>
<polyline points="3366.30,3210.70 3402.50,3210.70" fill="none" stroke="#000" stroke-width="5" stroke-linejoin="miter" stroke-linecap="butt"/>
<text x="3144.00" y="3270.00" font-family='"Liberation Serif","Noto Serif CJK SC",serif' font-size="56" text-anchor="middle" ><tspan font-style="italic">G</tspan></text>
<text x="3233.00" y="3270.00" font-family='"Liberation Serif","Noto Serif CJK SC",serif' font-size="56" text-anchor="middle" ><tspan font-style="italic">G</tspan></text>
<text x="3395.50" y="3270.00" font-family='"Liberation Serif","Noto Serif CJK SC",serif' font-size="56" text-anchor="middle" ><tspan font-style="italic">G</tspan></text>
<path d="M2932 1514 C2932 1492 2934.5 1477 2936.5 1467 Q2938.5 1455.5 2949 1455.5 L3571 1455.5 Q3581.5 1455.5 3583.5 1467 C3585.5 1477 3587 1492 3587 1514" fill="none" stroke="#000" stroke-width="4"/>
<polygon points="2932.00,1537.00 2920.00,1513.00 2944.00,1513.00" fill="#000"/>
<polygon points="3587.00,1537.00 3575.00,1513.00 3599.00,1513.00" fill="#000"/>
<rect x="2704.85" y="1537.05" width="476.50" height="1138.30" rx="74.35" ry="74.35" fill="#DDF5F4" stroke="#000" stroke-width="9.3" />
<polygon points="2943.45,1812.50 2931.45,1788.50 2955.45,1788.50" fill="#000"/>
<polyline points="2943.45,1739.50 2943.45,1789.50" fill="none" stroke="#000" stroke-width="4" stroke-linejoin="miter" stroke-linecap="butt"/>
<polygon points="2943.45,1997.50 2931.45,1973.50 2955.45,1973.50" fill="#000"/>
<polyline points="2943.45,1941.00 2943.45,1974.50" fill="none" stroke="#000" stroke-width="4" stroke-linejoin="miter" stroke-linecap="butt"/>
<polygon points="2943.45,2164.50 2931.45,2140.50 2955.45,2140.50" fill="#000"/>
<polyline points="2943.45,2102.50 2943.45,2141.50" fill="none" stroke="#000" stroke-width="4" stroke-linejoin="miter" stroke-linecap="butt"/>
<polygon points="2943.40,2385.00 2931.42,2360.99 2955.42,2361.01" fill="#000"/>
<polyline points="2943.45,2317.50 2943.42,2362.00" fill="none" stroke="#000" stroke-width="4" stroke-linejoin="miter" stroke-linecap="butt"/>
<polygon points="2943.90,2545.00 2931.45,2521.23 2955.45,2520.78" fill="#000"/>
<polyline points="2942.90,2492.00 2943.47,2522.00" fill="none" stroke="#000" stroke-width="4" stroke-linejoin="miter" stroke-linecap="butt"/>
<rect x="2747.35" y="1574.15" width="391.20" height="162.70" rx="25.35" ry="25.35" fill="#ADD890" stroke="#000" stroke-width="9.3" />
<text x="2941.95" y="1648.50" font-family='"Liberation Serif","Noto Serif CJK SC",serif' font-size="56" text-anchor="middle" >深度可分离</text>
<text x="2941.95" y="1715.50" font-family='"Liberation Serif","Noto Serif CJK SC",serif' font-size="56" text-anchor="middle" >卷积</text>
<rect x="2747.35" y="1813.15" width="391.20" height="125.20" rx="25.35" ry="25.35" fill="#ADD890" stroke="#000" stroke-width="9.3" />
<text x="2941.95" y="1893.75" font-family='"Liberation Serif","Noto Serif CJK SC",serif' font-size="56" text-anchor="middle" >最大值池化</text>
<rect x="2747.35" y="1998.15" width="391.20" height="101.70" rx="25.35" ry="25.35" fill="#ADD890" stroke="#000" stroke-width="9.3" />
<text x="2941.95" y="2067.00" font-family='"Liberation Serif","Noto Serif CJK SC",serif' font-size="56" text-anchor="middle" >逐点卷积</text>
<rect x="2747.35" y="2165.15" width="391.20" height="149.70" rx="25.35" ry="25.35" fill="#ADD890" stroke="#000" stroke-width="9.3" />
<text x="2941.95" y="2231.00" font-family='"Liberation Serif","Noto Serif CJK SC",serif' font-size="56" text-anchor="middle" >激活层</text>
<text x="2941.95" y="2290.50" font-family='"Liberation Serif","Noto Serif CJK SC",serif' font-size="56" text-anchor="middle" >维度扩展</text>
<circle cx="2942.9" cy="2437.6" r="52.85" fill="#DDF5F4" stroke="#000" stroke-width="9.3"/>
<circle cx="2942.9" cy="2598" r="52.85" fill="#DDF5F4" stroke="#000" stroke-width="9.3"/>
<text x="2949.3" y="2468.5" font-family='"Liberation Serif","Noto Serif CJK SC",serif' font-size="76" text-anchor="middle">×</text>
<text x="2944.1" y="2619" font-family='"Liberation Sans",sans-serif' font-size="61" font-weight="bold" text-anchor="middle">+</text>
<rect x="3365.65" y="1537.05" width="476.50" height="1138.30" rx="74.35" ry="74.35" fill="#DDF5F4" stroke="#000" stroke-width="9.3" />
<polygon points="3604.25,1817.00 3592.25,1793.00 3616.25,1793.00" fill="#000"/>
<polyline points="3604.25,1740.00 3604.25,1794.00" fill="none" stroke="#000" stroke-width="4" stroke-linejoin="miter" stroke-linecap="butt"/>
<polygon points="3604.25,1998.50 3592.25,1974.50 3616.25,1974.50" fill="#000"/>
<polyline points="3604.25,1944.50 3604.25,1975.50" fill="none" stroke="#000" stroke-width="4" stroke-linejoin="miter" stroke-linecap="butt"/>
<polygon points="3604.25,2168.50 3592.25,2144.50 3616.25,2144.50" fill="#000"/>
<polyline points="3604.25,2106.00 3604.25,2145.50" fill="none" stroke="#000" stroke-width="4" stroke-linejoin="miter" stroke-linecap="butt"/>
<polygon points="3607.50,2385.00 3594.36,2361.60 3618.33,2360.45" fill="#000"/>
<polyline points="3604.25,2317.50 3606.39,2362.03" fill="none" stroke="#000" stroke-width="4" stroke-linejoin="miter" stroke-linecap="butt"/>
<polygon points="3608.00,2545.00 3595.55,2521.23 3619.55,2520.78" fill="#000"/>
<polyline points="3607.00,2492.00 3607.57,2522.00" fill="none" stroke="#000" stroke-width="4" stroke-linejoin="miter" stroke-linecap="butt"/>
<rect x="3408.15" y="1575.15" width="391.20" height="162.20" rx="25.35" ry="25.35" fill="#FFD966" stroke="#000" stroke-width="9.3" />
<text x="3604.25" y="1649.25" font-family='"Liberation Serif","Noto Serif CJK SC",serif' font-size="56" text-anchor="middle" >深度可分离</text>
<text x="3604.25" y="1716.25" font-family='"Liberation Serif","Noto Serif CJK SC",serif' font-size="56" text-anchor="middle" >卷积</text>
<rect x="3408.15" y="1817.65" width="391.20" height="124.20" rx="25.35" ry="25.35" fill="#FFD966" stroke="#000" stroke-width="9.3" />
<text x="3604.25" y="1904.75" font-family='"Liberation Serif","Noto Serif CJK SC",serif' font-size="56" text-anchor="middle" >最大值池化</text>
<rect x="3408.15" y="1999.15" width="391.20" height="104.20" rx="25.35" ry="25.35" fill="#FFD966" stroke="#000" stroke-width="9.3" />
<text x="3604.25" y="2069.25" font-family='"Liberation Serif","Noto Serif CJK SC",serif' font-size="56" text-anchor="middle" >逐点卷积</text>
<rect x="3408.15" y="2169.15" width="391.20" height="145.70" rx="25.35" ry="25.35" fill="#FFD966" stroke="#000" stroke-width="9.3" />
<text x="3604.25" y="2233.00" font-family='"Liberation Serif","Noto Serif CJK SC",serif' font-size="56" text-anchor="middle" >激活层</text>
<text x="3604.25" y="2292.50" font-family='"Liberation Serif","Noto Serif CJK SC",serif' font-size="56" text-anchor="middle" >维度扩展</text>
<circle cx="3607" cy="2437.6" r="52.85" fill="#DDF5F4" stroke="#000" stroke-width="9.3"/>
<circle cx="3607" cy="2598" r="52.85" fill="#DDF5F4" stroke="#000" stroke-width="9.3"/>
<text x="3613.4" y="2468.5" font-family='"Liberation Serif","Noto Serif CJK SC",serif' font-size="76" text-anchor="middle">×</text>
<text x="3608.2" y="2619" font-family='"Liberation Sans",sans-serif' font-size="61" font-weight="bold" text-anchor="middle">+</text>
<rect x="3062.3" y="2426.2" width="86.1" height="86" fill="#fff"/>
<rect x="3066.8" y="2430.6" width="77.6" height="77.4" fill="#FFD966"/>
<rect x="3062.3" y="2521.3" width="86.1" height="86" fill="#fff"/>
<rect x="3066.8" y="2525.7000000000003" width="77.6" height="77.4" fill="#FFD966"/>
<rect x="3397.3" y="2426.2" width="86.1" height="86" fill="#fff"/>
<rect x="3401.8" y="2430.6" width="77.6" height="77.4" fill="#D9D9D9"/>
<rect x="3397.3" y="2521.3" width="86.1" height="86" fill="#fff"/>
<rect x="3401.8" y="2525.7000000000003" width="77.6" height="77.4" fill="#D9D9D9"/>
<path d="M3058.1 2516.5 H3037.4 M3022 2437.5 H3037.4 V2597.5 H3022" fill="none" stroke="#000" stroke-width="4" stroke-linejoin="miter"/>
<polygon points="2998.50,2437.50 3022.50,2425.50 3022.50,2449.50" fill="#000"/>
<polygon points="2998.50,2597.50 3022.50,2585.50 3022.50,2609.50" fill="#000"/>
<path d="M3486 2516.5 H3518.5 M3530 2437.5 H3518.5 V2597.5 H3530" fill="none" stroke="#000" stroke-width="4"/>
<polygon points="3551.50,2437.50 3527.50,2449.50 3527.50,2425.50" fill="#000"/>
<polygon points="3551.50,2597.50 3527.50,2609.50 3527.50,2585.50" fill="#000"/>
<polygon points="3209.50,2801.00 3185.50,2813.00 3185.50,2789.00" fill="#000"/>
<polyline points="2943.40,2678.00 2943.40,2801.00 3186.50,2801.00" fill="none" stroke="#000" stroke-width="4" stroke-linejoin="miter" stroke-linecap="butt"/>
<polygon points="3319.00,2800.40 3343.00,2788.40 3343.00,2812.40" fill="#000"/>
<polyline points="3542.50,2678.00 3542.50,2800.40 3342.00,2800.40" fill="none" stroke="#000" stroke-width="4" stroke-linejoin="miter" stroke-linecap="butt"/>
<circle cx="3264.1" cy="2800.4" r="52.7" fill="#C7EFEE" stroke="#000" stroke-width="9.3"/>
<text x="3271.00" y="2819.70" font-family='"Liberation Serif","Noto Serif CJK SC",serif' font-size="56" text-anchor="middle" font-weight="bold">C</text>
<polygon points="3266.40,2908.00 3253.77,2884.33 3277.76,2883.69" fill="#000"/>
<polyline points="3265.00,2855.00 3265.79,2885.01" fill="none" stroke="#000" stroke-width="4" stroke-linejoin="miter" stroke-linecap="butt"/>
<circle cx="3246.6" cy="1845.6" r="3.1" fill="#000"/>
<circle cx="3262.5" cy="1845.6" r="3.1" fill="#000"/>
<circle cx="3277.7" cy="1845.6" r="3.1" fill="#000"/>
<text x="3270.00" y="1877.00" font-family='"Liberation Serif","Noto Serif CJK SC",serif' font-size="52" text-anchor="middle" ><tspan font-style="italic" font-weight="bold">g</tspan></text>
</svg></body></html>
